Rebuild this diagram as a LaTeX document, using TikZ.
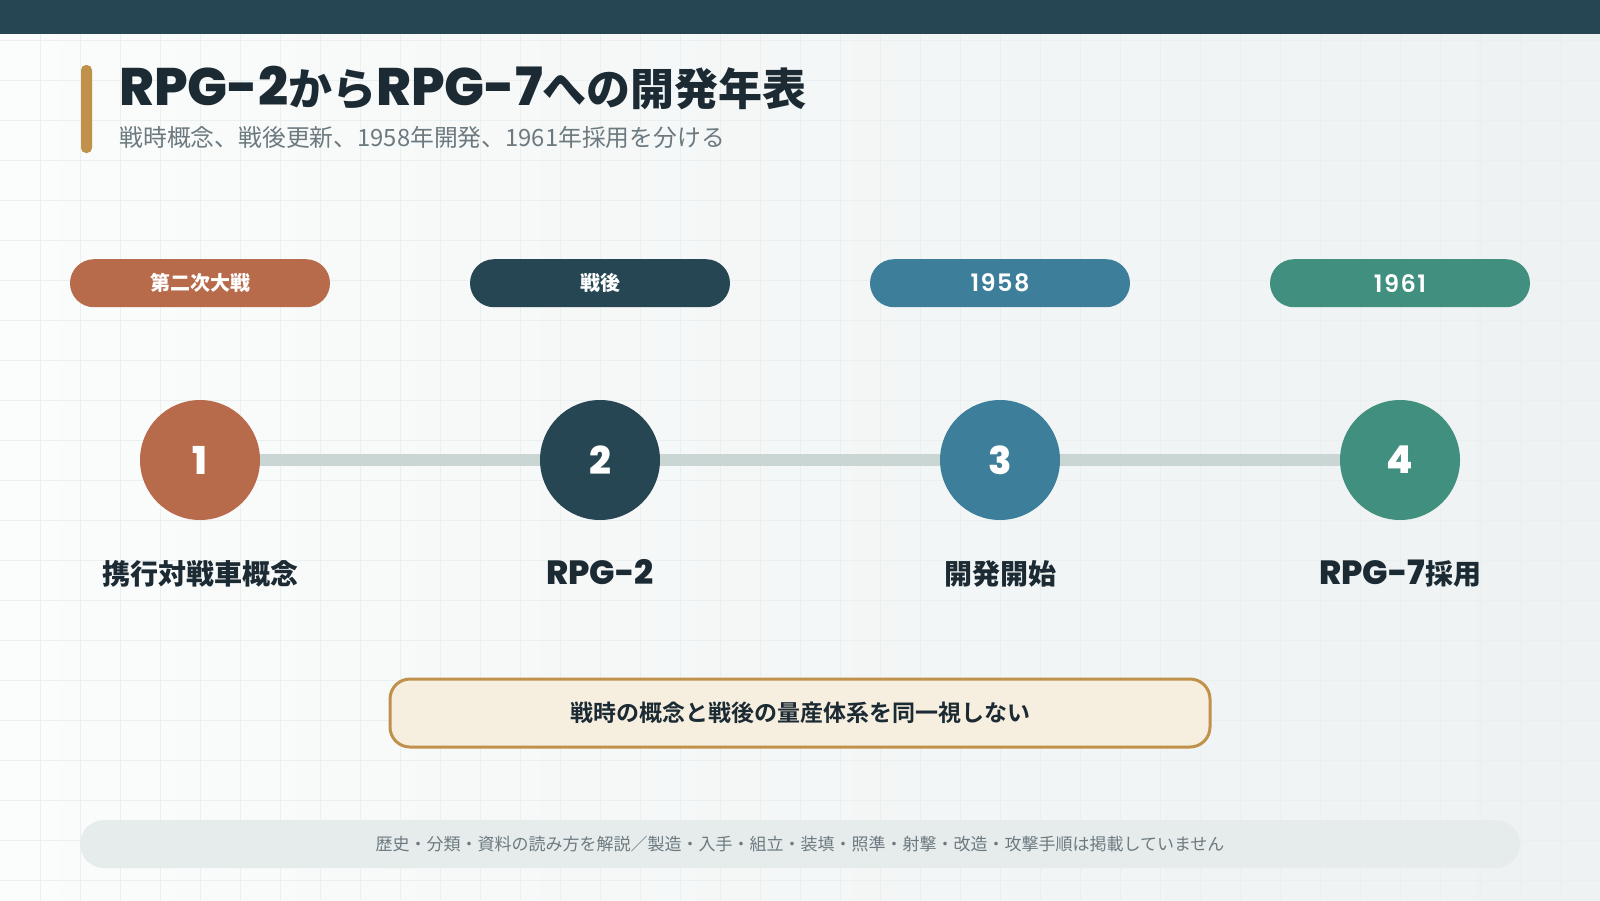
\documentclass[tikz,border=0pt]{standalone}
\usepackage{fontspec}
\setmainfont{Noto Sans CJK JP}[BoldFont={Noto Sans CJK JP Bold}]
\newfontfamily\heavy{Noto Sans CJK JP Black}
\newfontfamily\pop{Poppins ExtraBold}[Scale=1.2]
\newfontfamily\popyear{Poppins SemiBold}[Scale=1.2,LetterSpace=6]
\usetikzlibrary{positioning}

\definecolor{stageA}{HTML}{B86B4B}
\definecolor{stageB}{HTML}{264653}
\definecolor{stageC}{HTML}{3D7E9A}
\definecolor{stageD}{HTML}{41907F}
\definecolor{ink}{HTML}{1B2A33}
\definecolor{muted}{HTML}{6C7A80}
\definecolor{trackgray}{HTML}{C9D6D4}
\definecolor{accent}{HTML}{C0914A}
\definecolor{notefill}{HTML}{F6EFE0}
\definecolor{footfill}{HTML}{E6ECEC}
\definecolor{gridline}{HTML}{EAEFEF}

\begin{document}
\begin{tikzpicture}[x=0.5pt,y=-0.5pt,
  dot/.style={circle,minimum size=60pt,inner sep=0pt,text=white,
    font=\pop\fontsize{16}{16}\selectfont},
  pill/.style={rectangle,rounded corners=12pt,minimum width=130pt,minimum height=24pt,
    inner sep=0pt,text=white,font=\heavy\fontsize{10}{10}\selectfont},
  track/.style={draw=trackgray,line width=6pt},
  stagelabel/.style={inner sep=0pt,text=ink,text height=11pt,text depth=3pt,
    font=\heavy\fontsize{14}{14}\selectfont},
  notice/.style={draw=accent,line width=1.5pt,fill=notefill,rounded corners=10pt,
    minimum width=410pt,minimum height=34pt,text=ink,font=\bfseries\fontsize{11.5}{11.5}\selectfont},
  footbar/.style={fill=footfill,rounded corners=12pt,minimum width=720pt,minimum height=24pt,
    text=muted,font=\fontsize{8.5}{8.5}\selectfont}
]
\useasboundingbox (0,0) rectangle (1600,900);
% background
\shade[left color=white!60!footfill!40,right color=footfill!70] (0,0) rectangle (1600,900);
\foreach \g in {40,80,...,1560}
  \draw[gridline,line width=0.4pt] (\g,0) -- (\g,900);
\foreach \g in {40,80,...,880}
  \draw[gridline,line width=0.4pt] (0,\g) -- (1600,\g);
\fill[stageB] (0,0) rectangle (1600,34);

% heading
\fill[accent,rounded corners=2.5pt] (81,65) rectangle (92,153);
\node[anchor=base west,inner sep=0pt,text=ink,font=\heavy\fontsize{22}{22}\selectfont]
  (title) at (119,105) {{\pop RPG-2}から{\pop RPG-7}への開発年表};
\node[anchor=base west,inner sep=0pt,text=muted,font=\fontsize{11.9}{11.9}\selectfont]
  (subtitle) at (119,146) {戦時概念、戦後更新、1958年開発、1961年採用を分ける};

% stages
\foreach \i/\x/\col/\yr/\lab in {1/200/stageA/第二次大戦/携行対戦車概念,
    2/600/stageB/戦後/{\pop RPG-2},
    3/1000/stageC/{\popyear 1958}/開発開始,
    4/1400/stageD/{\popyear 1961}/{\pop RPG-7}採用}{
  \node[dot,fill=\col] (c\i) at (\x,460) {\i};
  \node[pill,fill=\col,above=46pt of c\i] (p\i) {\yr};
  \node[stagelabel,below=21pt of c\i] (l\i) {\lab};
}
\foreach \a/\b in {1/2,2/3,3/4}
  \draw[track] (c\a) -- (c\b);

% notes
\node[notice] (note) at (800,713) {戦時の概念と戦後の量産体系を同一視しない};
\node[footbar] (foot) at (800,844)
  {歴史・分類・資料の読み方を解説／製造・入手・組立・装填・照準・射撃・改造・攻撃手順は掲載していません};
\end{tikzpicture}
\end{document}
